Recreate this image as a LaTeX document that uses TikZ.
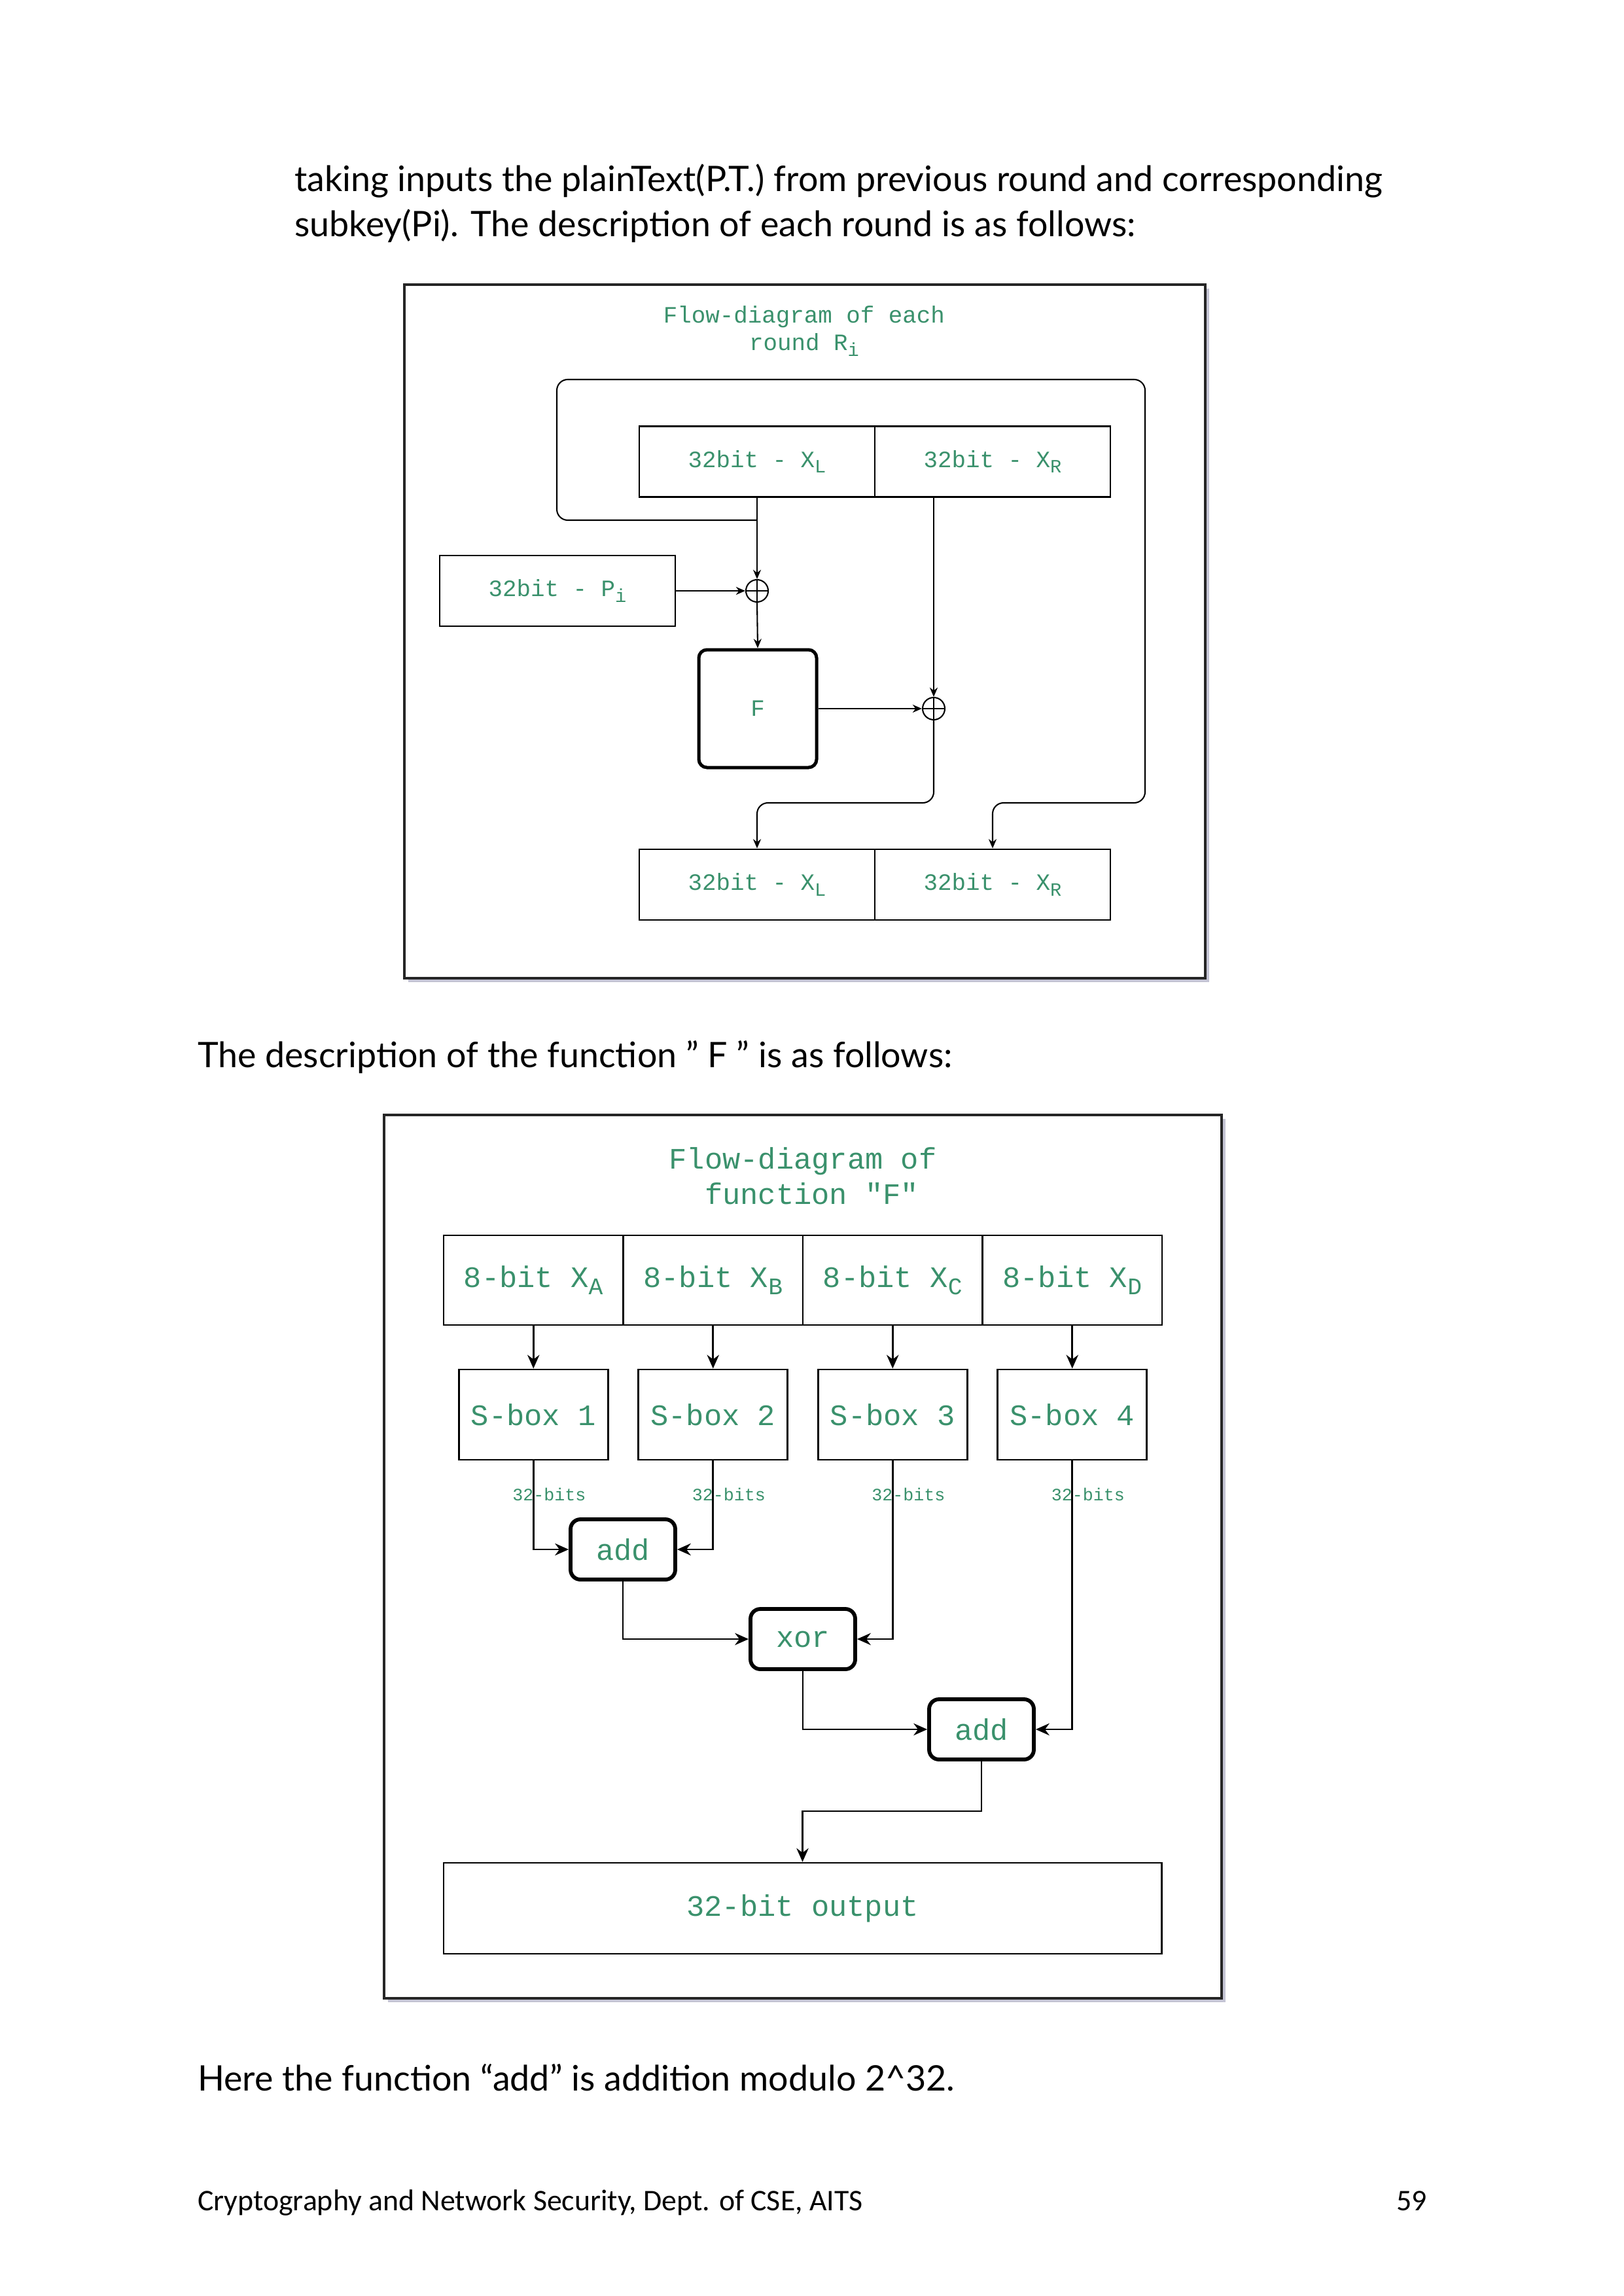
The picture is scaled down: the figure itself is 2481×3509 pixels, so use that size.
\documentclass[tikz,border=0pt]{standalone}
\usepackage{fontspec}
\setmainfont{Lato}
\newfontfamily\monofam{Liberation Mono}[Ligatures=TeXOff]
\newfontfamily\footfam{Carlito}
\usetikzlibrary{arrows.meta}
\definecolor{labelgreen}{RGB}{58,145,108}
\definecolor{shadowgray}{RGB}{196,196,212}
% lowered, slightly reduced index letter as used in the box labels
\newcommand\idx[1]{\raisebox{-0.45ex}{\scalebox{0.8}{#1}}}

\begin{document}
\begin{tikzpicture}[x=0.24pt, y=-0.24pt]
\tikzset{
  txt/.style={inner sep=0pt, outer sep=0pt},
  bodytext/.style={txt, font=\fontsize{12.9}{15}\selectfont},
  foottext/.style={txt, font=\footfam\fontsize{11}{13}\selectfont},
  frame/.style={draw=black!85, line width=0.8pt, fill=white},
  frameshadow/.style={fill=shadowgray},
  monoA/.style={font=\monofam\fontsize{8.6}{10.1}\selectfont, text=labelgreen},
  monoB/.style={font=\monofam\fontsize{10.9}{13}\selectfont, text=labelgreen},
  cellA/.style={monoA, draw, line width=0.7pt, minimum width=86.4pt, minimum height=25.92pt, inner sep=0pt},
  xorc/.style={circle, draw, line width=0.5pt, minimum size=8.16pt, inner sep=0pt,
    path picture={\draw[line width=0.5pt] (path picture bounding box.north) -- (path picture bounding box.south)
      (path picture bounding box.west) -- (path picture bounding box.east);}},
  fblock/.style={monoA, draw, line width=1.2pt, rounded corners=3pt, minimum width=43.2pt, minimum height=43.2pt, inner sep=0pt},
  wireA/.style={draw, line width=0.5pt, -{Stealth[length=3.4pt,width=2.9pt]}},
  cellB/.style={monoB, draw, line width=0.7pt, minimum width=65.88pt, minimum height=32.88pt, inner sep=0pt},
  sbox/.style={monoB, draw, line width=0.7pt, minimum width=54.72pt, minimum height=33.12pt, inner sep=0pt},
  opbox/.style={monoB, draw, line width=1.4pt, rounded corners=3.6pt, minimum width=38.4pt, minimum height=22.08pt, inner sep=0pt},
  outbox/.style={monoB, draw, line width=0.7pt, minimum width=263.3pt, minimum height=33.36pt, inner sep=0pt},
  wireB/.style={draw, line width=0.7pt, -{Stealth[length=5pt,width=4.4pt]}},
  bitlbl/.style={txt, font=\monofam\fontsize{6.4}{7}\selectfont, text=labelgreen},
}
\useasboundingbox (0,0) rectangle (2481,3509);
\fill[white] (0,0) rectangle (2481,3509);

% ---- page text ----
\node[bodytext, anchor=base west] (p1) at (450,293) {taking inputs the plainText(P.T.) from previous round and corresponding};
\node[bodytext, anchor=base west] (p2) at (450,362) {subkey(Pi). The description of each round is as follows:};
\node[bodytext, anchor=base west] (p3) at (302,1631) {The description of the function ” F ” is as follows:};
\node[bodytext, anchor=base west] (p4) at (302,3195) {Here the function “add” is addition modulo 2\textasciicircum 32.};
\node[foottext, anchor=base west] (foot) at (302,3378) {Cryptography and Network Security, Dept. of CSE, AITS};
\node[foottext, anchor=base east] (pgno) at (2181,3378) {59};

% ---- round diagram ----
\fill[frameshadow] (624,441) rectangle (1848,1501);
\draw[frame] (618,435) rectangle (1842,1495);
\node[monoA, txt, align=center] (title1) at (1229,506) {Flow-diagram of each\\round R\idx{i}};

\node[cellA] (xl1) at (1157,705.5) {32bit - X\idx{L}};
\node[cellA] (xr1) at (1517,705.5) {32bit - X\idx{R}};
\node[cellA] (pi)  at (852,903)    {32bit - P\idx{i}};
\node[xorc]  (x1)  at (1157,903) {};
\node[fblock] (f)  at (1158,1083) {F};
\node[xorc]  (x2)  at (1427,1083) {};
\node[cellA] (xl2) at (1157,1352) {32bit - X\idx{L}};
\node[cellA] (xr2) at (1517,1352) {32bit - X\idx{R}};

\coordinate (tapy) at (0,795);
\coordinate (loopNW) at (851,580);
\coordinate (loopSE) at (1750,1227);
\coordinate (mixy) at (0,1227);

\draw[wireA] (xl1.south) -- (x1.north);
\draw[wireA] (pi.east) -- (x1.west);
\draw[wireA] (x1.south) -- (f.north);
\draw[wireA] (xr1.south -| x2) -- (x2.north);
\draw[wireA] (f.east) -- (x2.west);
\draw[wireA, rounded corners=4pt] (x2.south) -- (x2.south |- mixy) -- (xl2.north |- mixy) -- (xl2.north);
\draw[wireA, rounded corners=4pt] (xl1.south |- tapy) -- (loopNW |- tapy) -- (loopNW)
  -- (loopSE |- loopNW) -- (loopSE) -- (xr2.north |- loopSE) -- (xr2.north);

% ---- function F diagram ----
\fill[frameshadow] (593,1710) rectangle (1873,3060);
\draw[frame] (587,1704) rectangle (1867,3054);
\node[monoB, txt, align=center] (title2) at (1227,1797) {Flow-diagram of\\\hphantom{f}function "F"};

\node[cellB] (xa) at (815.25,1956.5)  {8-bit X\idx{A}};
\node[cellB] (xb) at (1089.75,1956.5) {8-bit X\idx{B}};
\node[cellB] (xc) at (1364.25,1956.5) {8-bit X\idx{C}};
\node[cellB] (xd) at (1638.75,1956.5) {8-bit X\idx{D}};

\node[sbox] (s1) at (815.25,2162)  {S-box 1};
\node[sbox] (s2) at (1089.75,2162) {S-box 2};
\node[sbox] (s3) at (1364.25,2162) {S-box 3};
\node[sbox] (s4) at (1638.75,2162) {S-box 4};

\node[opbox] (add1) at (952,2368)  {add};
\node[opbox] (xor)  at (1227,2505) {xor};
\node[opbox] (add2) at (1500,2643) {add};
\node[outbox] (out) at (1226.5,2916.5) {32-bit output};

\foreach \a/\b in {xa/s1, xb/s2, xc/s3, xd/s4}
  \draw[wireB] (\a.south) -- (\b.north);

\draw[wireB] (s1.south) |- (add1.west);
\draw[wireB] (s2.south) |- (add1.east);
\draw[wireB] (add1.south) |- (xor.west);
\draw[wireB] (s3.south) |- (xor.east);
\draw[wireB] (xor.south) |- (add2.west);
\draw[wireB] (s4.south) |- (add2.east);
\coordinate (outy) at (0,2768);
\draw[wireB] (add2.south) -- (add2.south |- outy) -- (out.north |- outy) -- (out.north);

\path (s1.south) ++(24,51) node[bitlbl] (b1) {32-bits};
\path (s2.south) ++(24,51) node[bitlbl] (b2) {32-bits};
\path (s3.south) ++(24,51) node[bitlbl] (b3) {32-bits};
\path (s4.south) ++(24,51) node[bitlbl] (b4) {32-bits};
\end{tikzpicture}
\end{document}
